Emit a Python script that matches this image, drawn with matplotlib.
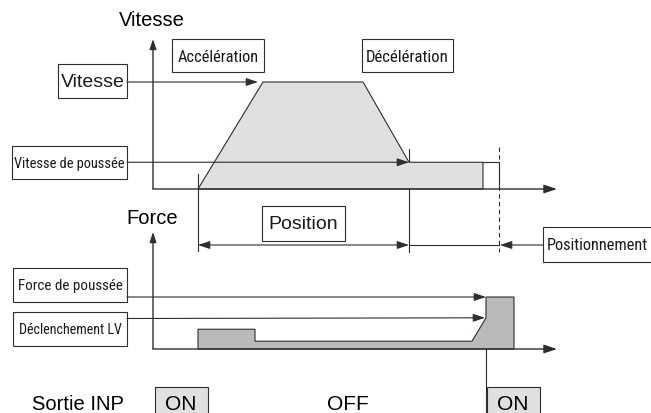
import matplotlib
matplotlib.use('Agg')
import matplotlib.pyplot as plt
from matplotlib import font_manager
from matplotlib.patches import Rectangle
from matplotlib.transforms import blended_transform_factory

# profil de vitesse (position en unites arbitraires, vitesse en %)
pos_vitesse = [45, 110, 210, 256, 330, 330]
vitesse = [0, 100, 100, 25, 25, 0]
vitesse_max = 100
vitesse_poussee = 25
pos_fin_poussee = 330
pos_arret = 346

# profil de force (force en % de la force de poussee)
pos_force = [45, 45, 102, 102, 319, 333, 333, 361, 361]
force = [0, 38, 38, 15, 15, 60, 100, 100, 0]
force_poussee = 100
seuil_lv = 60
pos_inp = 333

ligne = '#2e2e2e'
gris_clair = '#dfe0e2'
gris_fonce = '#b9babc'
regulier = ['Liberation Sans', 'DejaVu Sans']

# police etroite si disponible
fonts = font_manager.fontManager.ttflist
noms = {f.name for f in fonts}
etroit, stretch = ['Liberation Sans', 'DejaVu Sans'], 'normal'
for nom in ['Liberation Sans Narrow', 'Roboto Condensed', 'Open Sans Condensed']:
    if nom in noms:
        etroit = [nom, 'DejaVu Sans']
        break
else:
    if any(f.name == 'DejaVu Sans' and f.stretch == 'condensed' for f in fonts):
        etroit, stretch = ['DejaVu Sans'], 'condensed'

fig = plt.figure(figsize=(6.51, 4.14), dpi=100)
renderer = fig.canvas.get_renderer()

# axe de mise en page en pixels
ax_px = fig.add_axes([0, 0, 1, 1])
ax_px.set_xlim(0, 651)
ax_px.set_ylim(414, 0)
ax_px.axis('off')

ax_v = fig.add_axes([0, 0.5, 1, 0.5])
ax_v.set_xlim(-153, 498)
ax_v.set_ylim(-15.89, 177.57)
ax_v.axis('off')
ax_v.patch.set_alpha(0)

ax_f = fig.add_axes([0, 0, 1, 0.5])
ax_f.set_xlim(-153, 498)
ax_f.set_ylim(-123.08, 275)
ax_f.axis('off')
ax_f.patch.set_alpha(0)

tr_x = blended_transform_factory(ax_v.transData, ax_px.transData)
tete = '-|>,head_length=0.6,head_width=0.2'


def fleche(ax, xy, xytext, textcoords='data', scale=12, lw=0.8):
    ax.annotate('', xy=xy, xycoords='data', xytext=xytext, textcoords=textcoords,
                arrowprops=dict(arrowstyle=tete, lw=lw, color=ligne, shrinkA=0,
                                shrinkB=0, mutation_scale=scale),
                annotation_clip=False)


def boite(x0, y0, x1, y1, texte, size, famille, fc='white', ha='center',
          largeur=None, fstretch='normal'):
    ax_px.add_patch(Rectangle((x0, y0), x1 - x0, y1 - y0, fc=fc, ec=ligne,
                              lw=0.8, clip_on=False, zorder=3))
    x = (x0 + x1) / 2 if ha == 'center' else x0 + 4
    t = ax_px.text(x, (y0 + y1) / 2 + 0.5, texte, fontsize=size, family=famille,
                   fontstretch=fstretch, ha=ha, va='center', color='#1a1a1a',
                   zorder=4)
    if largeur:
        w = t.get_window_extent(renderer).width
        t.set_fontsize(min(size, size * largeur / w))
    return t


# --- vitesse ---
ax_v.fill(pos_vitesse, vitesse, fc=gris_clair, ec=ligne, lw=0.8, zorder=1)
ax_v.plot([pos_fin_poussee, pos_arret, pos_arret], [vitesse_poussee, vitesse_poussee, 0],
          color=ligne, lw=0.8, zorder=1)
fleche(ax_v, (404, 0), (0, 0), lw=1.0, scale=13)
fleche(ax_v, (0, 140.2), (0, 0), lw=1.0, scale=10)
ax_px.text(152, 21, 'Vitesse', fontsize=14.5, family=regulier, ha='center', va='center')

boite(172, 40, 264, 73, 'Accélération', 14, etroit, largeur=82, fstretch=stretch)
boite(362, 40, 453, 73, 'Décélération', 14, etroit, largeur=84, fstretch=stretch)
boite(58, 65, 127, 99, 'Vitesse', 14, regulier)
boite(12, 147, 127, 180, 'Vitesse de poussée', 12, etroit, largeur=110, fstretch=stretch)
fleche(ax_v, (pos_vitesse[1] - 5, vitesse_max), (127, 83), textcoords=ax_px.transData)
fleche(ax_v, (pos_vitesse[3], vitesse_poussee), (127, 163.25), textcoords=ax_px.transData)

# lignes de rappel et cotes
ax_px.plot([pos_vitesse[0]] * 2, [175, 252], transform=tr_x, color=ligne, lw=0.8)
ax_px.plot([pos_vitesse[3]] * 2, [150, 253], transform=tr_x, color=ligne, lw=0.8)
ax_px.plot([pos_arret] * 2, [148, 253], transform=tr_x, color=ligne, lw=0.8,
           ls=(0, (4, 3)))
ax_px.annotate('', xy=(pos_vitesse[0], 246), xytext=(pos_vitesse[3], 246),
               xycoords=tr_x, textcoords=tr_x,
               arrowprops=dict(arrowstyle='<|' + tete, lw=0.8, color=ligne,
                               shrinkA=0, shrinkB=0, mutation_scale=12))
ax_px.plot([pos_vitesse[3], pos_arret], [246, 246], transform=tr_x, color=ligne, lw=0.8)
ax_px.annotate('', xy=(pos_arret + 1, 246), xytext=(543, 246), xycoords=tr_x,
               textcoords='data',
               arrowprops=dict(arrowstyle=tete, lw=0.8, color=ligne, shrinkA=0,
                               shrinkB=0, mutation_scale=12))
boite(262, 207, 345, 242, 'Position', 14, regulier)
boite(543, 228, 680, 263, 'Positionnement', 14, etroit, ha='left', largeur=102,
      fstretch=stretch)

# --- force ---
ax_f.fill(pos_force, force, fc=gris_fonce, ec=ligne, lw=0.8, zorder=1)
fleche(ax_f, (404, 0), (0, 0), lw=1.0, scale=13)
fleche(ax_f, (0, 225), (0, 0), lw=1.0, scale=10)
ax_px.text(152, 219, 'Force', fontsize=14.5, family=regulier, ha='center', va='center')

boite(13, 269, 127, 303, 'Force de poussée', 12, etroit, largeur=104, fstretch=stretch)
boite(13, 313, 127, 347, 'Déclenchement LV', 12, etroit, largeur=103, fstretch=stretch)
fleche(ax_f, (pos_inp, force_poussee), (127, 298), textcoords=ax_px.transData)
fleche(ax_f, (pos_inp - 1, seuil_lv), (127, 319.5), textcoords=ax_px.transData)
ax_px.plot([pos_inp] * 2, [298, 414], transform=tr_x, color=ligne, lw=0.8)

# --- sortie INP ---
ax_px.text(78, 405, 'Sortie INP', fontsize=14.5, family=regulier, ha='center', va='center')
boite(155, 388, 208, 425, '', 15, regulier, fc=gris_clair)
ax_px.text(181, 405, 'ON', fontsize=15, family=regulier, ha='center', va='center', zorder=5)
ax_px.text(348, 405, 'OFF', fontsize=15, family=regulier, ha='center', va='center')
boite(487, 388, 540, 425, '', 15, regulier, fc=gris_clair)
ax_px.text(513, 405, 'ON', fontsize=15, family=regulier, ha='center', va='center', zorder=5)
ax_px.annotate('', xy=(558, 418), xytext=(540, 418), xycoords='data',
               arrowprops=dict(arrowstyle=tete, lw=0.8, color=ligne, shrinkA=0,
                               shrinkB=0, mutation_scale=12), annotation_clip=False)

fig.savefig('out.png', dpi=100)
